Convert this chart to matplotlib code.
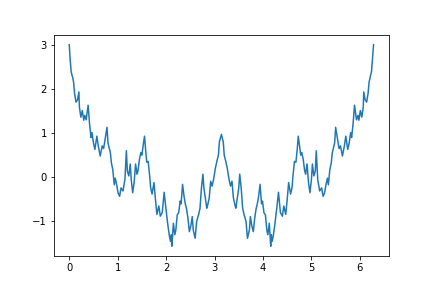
import matplotlib
matplotlib.use("Agg")
import matplotlib.pyplot as plt

x_left = [0.00, 0.02, 0.04, 0.06, 0.076, 0.09, 0.11, 0.14, 0.17, 0.20, 0.21, 0.24, 0.27, 0.30,
          0.32, 0.35, 0.39, 0.42, 0.45, 0.47, 0.50, 0.53, 0.57, 0.60, 0.64, 0.68, 0.71, 0.74,
          0.78, 0.80, 0.85, 0.87, 0.90, 0.93, 0.95, 0.98, 1.01, 1.04, 1.07, 1.11, 1.15, 1.18,
          1.20, 1.23, 1.26, 1.28, 1.31, 1.34, 1.37, 1.40, 1.42, 1.45, 1.48, 1.50, 1.53, 1.555,
          1.575, 1.60, 1.63, 1.66, 1.68, 1.71, 1.75, 1.78, 1.81, 1.85, 1.88, 1.92, 1.96, 1.99,
          2.01, 2.04, 2.07, 2.09, 2.11, 2.12, 2.15, 2.18, 2.20, 2.23, 2.26, 2.29, 2.31, 2.34,
          2.37, 2.40, 2.42, 2.45, 2.48, 2.51, 2.54, 2.56, 2.60, 2.63, 2.65, 2.67, 2.70, 2.73,
          2.76, 2.78, 2.81, 2.84, 2.86, 2.89, 2.92, 2.95, 2.98, 3.02, 3.05, 3.08, 3.10, 3.1416]
y_left = [3.00, 2.66, 2.39, 2.30, 2.24, 2.15, 1.90, 1.70, 1.75, 1.93, 1.59, 1.36, 1.51, 1.29,
          1.40, 1.30, 1.63, 1.21, 0.90, 1.01, 0.78, 0.63, 0.93, 0.71, 0.48, 0.71, 0.65, 0.85,
          1.13, 0.78, 0.55, 0.33, 0.17, -0.17, -0.02, -0.17, -0.36, -0.43, -0.24, -0.31, -0.05, 0.60,
          0.14, 0.03, 0.30, -0.05, -0.35, -0.12, 0.30, 0.07, 0.15, 0.41, 0.56, 0.50, 0.75, 0.93,
          0.65, 0.34, 0.36, 0.04, -0.23, -0.38, -0.12, -0.50, -0.84, -0.65, -0.88, -0.80, -0.34, -0.65,
          -0.84, -1.11, -1.34, -1.45, -1.30, -1.56, -1.04, -1.30, -1.20, -0.85, -0.80, -0.54, -0.60, -0.16,
          -0.43, -0.62, -0.70, -0.92, -1.23, -1.10, -0.89, -1.19, -1.38, -1.00, -0.92, -0.85, -0.70, -0.24,
          0.07, -0.24, -0.47, -0.70, -0.62, -0.47, -0.09, -0.20, -0.05, 0.22, 0.37, 0.50, 0.80, 0.97]

x_right = [3.18, 3.20, 3.23, 3.26, 3.30, 3.33, 3.36, 3.39, 3.42, 3.44, 3.47, 3.50, 3.52, 3.55,
           3.58, 3.61, 3.63, 3.65, 3.68, 3.72, 3.74, 3.77, 3.80, 3.83, 3.86, 3.88, 3.91, 3.94,
           3.97, 3.99, 4.02, 4.05, 4.08, 4.10, 4.13, 4.16, 4.17, 4.19, 4.21, 4.24, 4.27, 4.29,
           4.32, 4.36, 4.40, 4.43, 4.47, 4.50, 4.53, 4.57, 4.60, 4.62, 4.65, 4.68, 4.708, 4.728,
           4.75, 4.78, 4.80, 4.83, 4.86, 4.88, 4.91, 4.94, 4.97, 5.00, 5.02, 5.05, 5.08, 5.10,
           5.13, 5.17, 5.21, 5.24, 5.27, 5.30, 5.33, 5.35, 5.38, 5.41, 5.43, 5.48, 5.50, 5.54,
           5.57, 5.60, 5.64, 5.68, 5.71, 5.75, 5.78, 5.81, 5.83, 5.86, 5.89, 5.93, 5.96, 5.98,
           6.01, 6.04, 6.07, 6.08, 6.11, 6.14, 6.17, 6.19, 6.207, 6.22, 6.24, 6.26, 6.2832]
y_right = [0.80, 0.50, 0.37, 0.22, -0.05, -0.20, -0.09, -0.47, -0.62, -0.70, -0.47, -0.24, 0.07, -0.24,
           -0.70, -0.85, -0.92, -1.00, -1.38, -1.19, -0.89, -1.10, -1.23, -0.92, -0.70, -0.62, -0.43, -0.16,
           -0.60, -0.54, -0.80, -0.85, -1.20, -1.30, -1.04, -1.56, -1.30, -1.45, -1.34, -1.11, -0.84, -0.65,
           -0.34, -0.80, -0.88, -0.65, -0.84, -0.50, -0.12, -0.38, -0.23, 0.04, 0.36, 0.34, 0.65, 0.93,
           0.75, 0.50, 0.56, 0.41, 0.15, 0.07, 0.30, -0.12, -0.35, -0.05, 0.30, 0.03, 0.14, 0.60,
           -0.05, -0.31, -0.24, -0.43, -0.36, -0.17, -0.02, -0.17, 0.17, 0.33, 0.55, 0.78, 1.13, 0.85,
           0.65, 0.71, 0.48, 0.71, 0.93, 0.63, 0.78, 1.01, 0.90, 1.21, 1.63, 1.30, 1.40, 1.29,
           1.51, 1.36, 1.59, 1.93, 1.75, 1.70, 1.90, 2.15, 2.24, 2.30, 2.39, 2.66, 3.00]

x = x_left + x_right
y = y_left + y_right

fig, ax = plt.subplots(figsize=(6, 4), dpi=72)
ax.plot(x, y, color="#1f77b4", linewidth=1.5)
fig.savefig("out.png", dpi=72)
